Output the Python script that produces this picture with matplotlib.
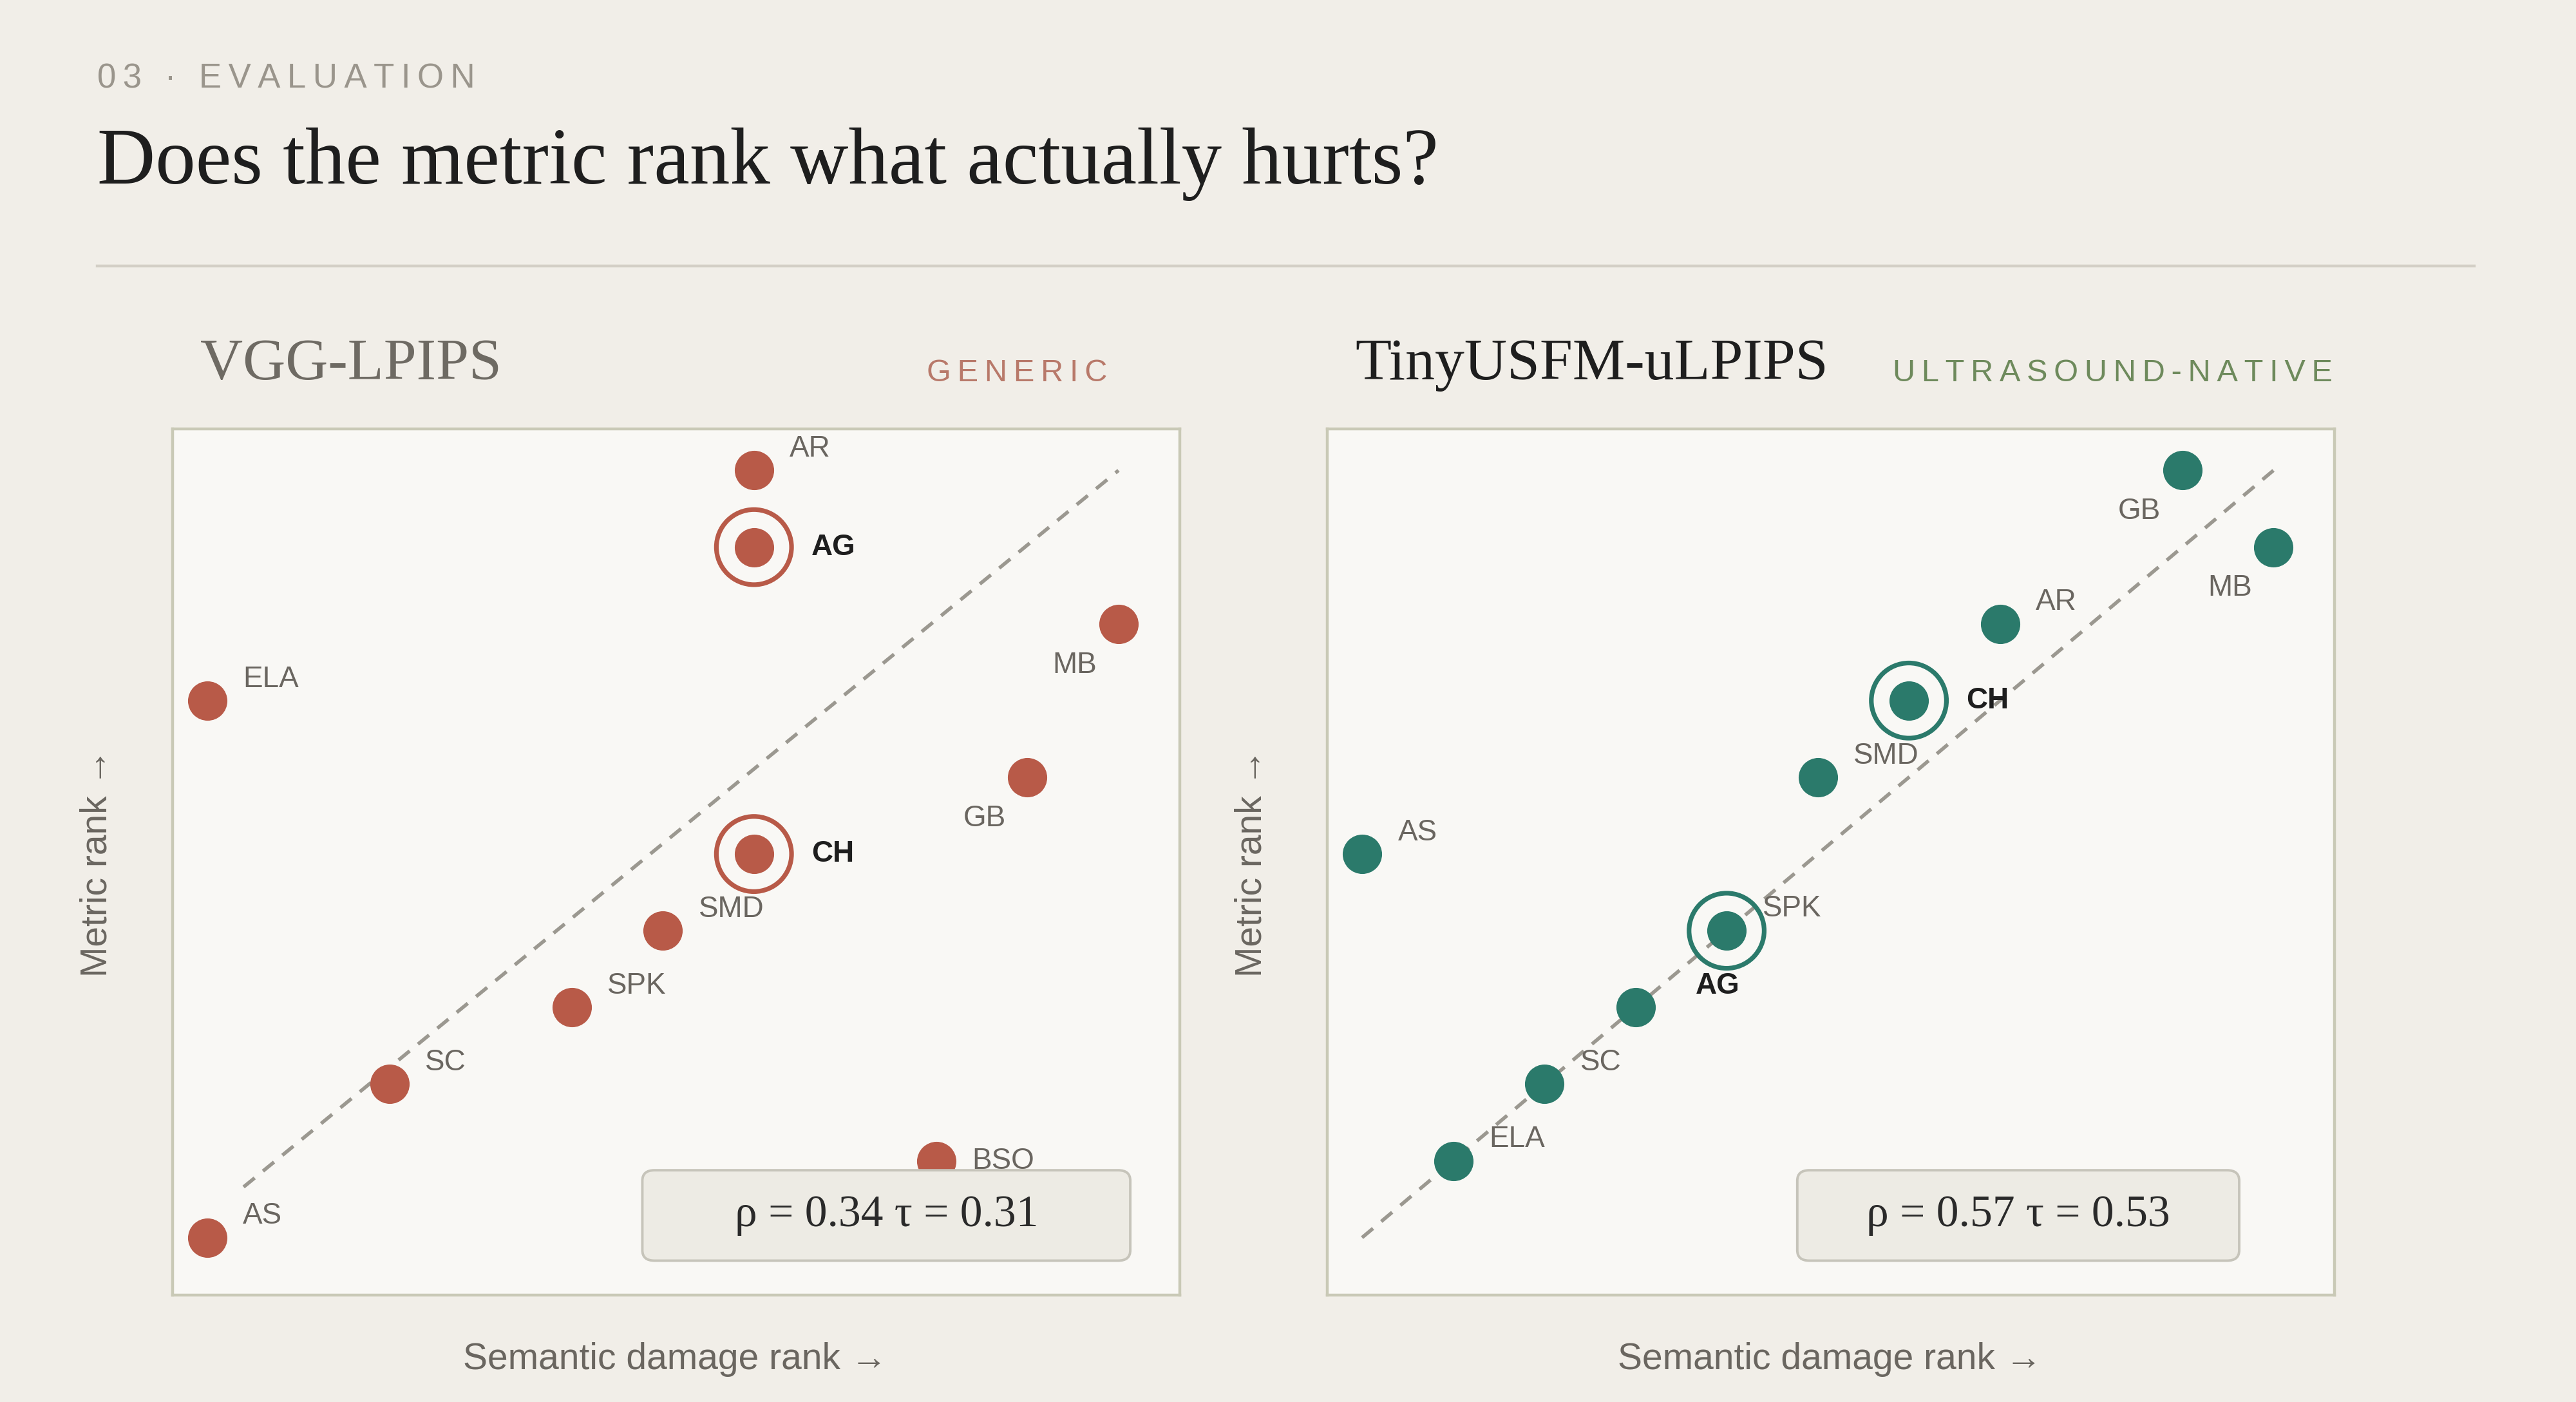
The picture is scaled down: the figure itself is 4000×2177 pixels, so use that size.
import matplotlib
matplotlib.use("Agg")
import matplotlib.pyplot as plt
from matplotlib.patches import FancyBboxPatch

plt.rcParams["font.family"] = ["Liberation Sans", "DejaVu Sans"]

# ---- data (semantic damage rank, metric rank) ----
vgg_names = ["AS", "ELA", "SC", "SPK", "SMD", "CH", "AG", "AR", "BSO", "GB", "MB"]
vgg_x = [1, 1, 3, 5, 6, 7, 7, 7, 9, 10, 11]
vgg_y = [1, 8, 3, 4, 5, 6, 10, 11, 2, 7, 9]
vgg_stats = "ρ = 0.34 τ = 0.31"

usfm_names = ["AS", "ELA", "SC", "", "AG", "SMD", "CH", "AR", "GB", "MB"]
usfm_x = [1, 2, 3, 4, 5, 6, 7, 8, 10, 11]
usfm_y = [6, 2, 3, 4, 5, 7, 8, 9, 11, 10]
usfm_stats = "ρ = 0.57 τ = 0.53"

BG = "#f1eee8"
FACE = "#f9f8f5"
RED = "#b85a48"
TEAL = "#2b7a6b"
W, H = 1568.0, 853.0
serif = ["Liberation Serif", "DejaVu Serif"]


def fx(px):
    return px / W


def fy(py):
    return 1 - py / H


def spaced(s):
    return "\u2009".join(s)


fig = plt.figure(figsize=(20, 20 * 2177 / 4000), dpi=200, facecolor=BG)

fig.text(fx(59), fy(48), spaced("03 · EVALUATION"), fontsize=19, color="#9a958c",
         va="center", ha="left")
fig.text(fx(59), fy(100), "Does the metric rank what actually hurts?", fontsize=45,
         color="#1e1e1e", va="center", ha="left", family=serif)
fig.add_artist(plt.Line2D([fx(59), fx(1506)], [fy(162), fy(162)], color="#d3cfc6", lw=1.6))


def panel(left, names, xs, ys, color, hl, offsets, line, stats, box):
    ax = fig.add_axes([fx(left), fy(788), fx(613), 527 / H])
    ax.set_facecolor(FACE)
    ax.set_xlim(0.62, 11.67)
    ax.set_ylim(0.25, 11.54)
    ax.set_xticks([])
    ax.set_yticks([])
    for sp in ax.spines.values():
        sp.set_color("#c9c9b6")
        sp.set_linewidth(1.6)
    ax.plot(line[0], line[1], ls=(0, (4, 3)), color="#9b9890", lw=2.0, zorder=1)
    ax.scatter(xs, ys, s=22 ** 2, color=color, zorder=3, linewidths=0)
    for n, x, y in zip(names, xs, ys):
        if not n:
            continue
        if n in hl:
            ax.scatter([x], [y], s=42 ** 2, facecolor="none", edgecolor=color,
                       linewidths=2.6, zorder=3)
        dx, dy, ha = offsets.get(n, (20, 12, "left"))
        ax.annotate(n, (x, y), xytext=(dx, dy), textcoords="offset points",
                    ha=ha, va="center", fontsize=16.5,
                    color="#1e1e1e" if n in hl else "#6a6660",
                    fontweight="bold" if n in hl else "normal", zorder=4)
    bx0 = (box[0] - left) / 613
    bw = (box[1] - box[0]) / 613
    by0 = (788 - 767) / 527
    bh = 55 / 527
    ax.add_patch(FancyBboxPatch((bx0, by0), bw, bh, transform=ax.transAxes,
                                boxstyle="round,pad=0,rounding_size=0.012",
                                facecolor="#edebe4", edgecolor="#c6c4ba", lw=1.4,
                                zorder=6, clip_on=False))
    ax.text(bx0 + bw / 2, by0 + bh / 2, stats, transform=ax.transAxes, ha="center",
            va="center", fontsize=25, color="#2a2a2a", zorder=7, family=serif)
    fig.text(fx(left - 46), fy(525), "Metric rank →", rotation=90, ha="center",
             va="center", fontsize=20.5, color="#6a6660")
    fig.text(fx(left + 306), fy(827), "Semantic damage rank →", ha="center",
             va="center", fontsize=20.5, color="#6a6660")
    return ax


panel(105, vgg_names, vgg_x, vgg_y, RED, ["AG", "CH"],
      {"MB": (-12, -23, "right"), "GB": (-12, -23, "right"), "AG": (32, 0, "left"),
       "CH": (32, 0, "left"), "BSO": (20, 0, "left")},
      ([1.4, 11.0], [1.66, 11.0]), vgg_stats, (391, 688))
panel(808, usfm_names, usfm_x, usfm_y, TEAL, ["AG", "CH"],
      {"MB": (-12, -23, "right"), "GB": (-12, -23, "right"), "CH": (32, 0, "left"),
       "AG": (-5, -31, "center")},
      ([1.0, 11.0], [1.0, 11.0]), usfm_stats, (1094, 1363))
fig.text(fx(1073), fy(553), "SPK", ha="left", va="center", fontsize=16.5, color="#6a6660")

fig.text(fx(122), fy(222), "VGG-LPIPS", fontsize=33, color="#6e6a63", va="center", family=serif)
fig.text(fx(674), fy(227), spaced("GENERIC"), fontsize=17.5, color="#b8796a", va="center", ha="right")
fig.text(fx(825), fy(222), "TinyUSFM-uLPIPS", fontsize=33, color="#1e1e1e", va="center", family=serif)
fig.text(fx(1420), fy(227), spaced("ULTRASOUND-NATIVE"), fontsize=17.5, color="#6e8a5c",
         va="center", ha="right")

fig.savefig("out.png", facecolor=BG)
